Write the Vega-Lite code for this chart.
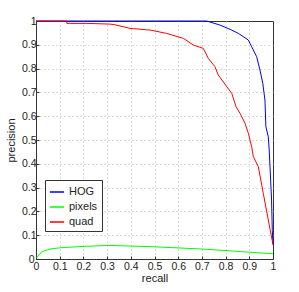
{
  "$schema": "https://vega.github.io/schema/vega-lite/v6.json",
  "width": 237,
  "height": 238,
  "autosize": "none",
  "padding": {"left": 36, "top": 21, "right": 26, "bottom": 33},
  "background": "white",
  "config": {
    "font": "Liberation Sans",
    "view": {"stroke": "#333333", "strokeWidth": 1}
  },
  "data": {
    "values": [
      {"s": "HOG", "i": 0, "r": 0, "p": 1},
      {"s": "HOG", "i": 1, "r": 0.72, "p": 1},
      {"s": "HOG", "i": 2, "r": 0.776, "p": 0.983},
      {"s": "HOG", "i": 3, "r": 0.819, "p": 0.965},
      {"s": "HOG", "i": 4, "r": 0.854, "p": 0.948},
      {"s": "HOG", "i": 5, "r": 0.896, "p": 0.92},
      {"s": "HOG", "i": 6, "r": 0.91, "p": 0.892},
      {"s": "HOG", "i": 7, "r": 0.931, "p": 0.85},
      {"s": "HOG", "i": 8, "r": 0.945, "p": 0.794},
      {"s": "HOG", "i": 9, "r": 0.957, "p": 0.738},
      {"s": "HOG", "i": 10, "r": 0.966, "p": 0.668},
      {"s": "HOG", "i": 11, "r": 0.97, "p": 0.556},
      {"s": "HOG", "i": 12, "r": 0.98, "p": 0.514},
      {"s": "HOG", "i": 13, "r": 0.984, "p": 0.458},
      {"s": "HOG", "i": 14, "r": 0.994, "p": 0.248},
      {"s": "HOG", "i": 15, "r": 0.997, "p": 0.12},
      {"s": "HOG", "i": 16, "r": 1, "p": 0.06},
      {"s": "pixels", "i": 0, "r": 0, "p": 0.003},
      {"s": "pixels", "i": 1, "r": 0.024, "p": 0.03},
      {"s": "pixels", "i": 2, "r": 0.059, "p": 0.042},
      {"s": "pixels", "i": 3, "r": 0.101, "p": 0.047},
      {"s": "pixels", "i": 4, "r": 0.2, "p": 0.053},
      {"s": "pixels", "i": 5, "r": 0.31, "p": 0.057},
      {"s": "pixels", "i": 6, "r": 0.48, "p": 0.052},
      {"s": "pixels", "i": 7, "r": 0.7, "p": 0.042},
      {"s": "pixels", "i": 8, "r": 1, "p": 0.022},
      {"s": "quad", "i": 0, "r": 0, "p": 1},
      {"s": "quad", "i": 1, "r": 0.13, "p": 1},
      {"s": "quad", "i": 2, "r": 0.13, "p": 0.99},
      {"s": "quad", "i": 3, "r": 0.214, "p": 0.99},
      {"s": "quad", "i": 4, "r": 0.312, "p": 0.987},
      {"s": "quad", "i": 5, "r": 0.33, "p": 0.985},
      {"s": "quad", "i": 6, "r": 0.397, "p": 0.969},
      {"s": "quad", "i": 7, "r": 0.467, "p": 0.963},
      {"s": "quad", "i": 8, "r": 0.481, "p": 0.962},
      {"s": "quad", "i": 9, "r": 0.551, "p": 0.948},
      {"s": "quad", "i": 10, "r": 0.622, "p": 0.927},
      {"s": "quad", "i": 11, "r": 0.664, "p": 0.899},
      {"s": "quad", "i": 12, "r": 0.706, "p": 0.885},
      {"s": "quad", "i": 13, "r": 0.727, "p": 0.843},
      {"s": "quad", "i": 14, "r": 0.755, "p": 0.808},
      {"s": "quad", "i": 15, "r": 0.769, "p": 0.773},
      {"s": "quad", "i": 16, "r": 0.805, "p": 0.724},
      {"s": "quad", "i": 17, "r": 0.826, "p": 0.696},
      {"s": "quad", "i": 18, "r": 0.844, "p": 0.64},
      {"s": "quad", "i": 19, "r": 0.861, "p": 0.612},
      {"s": "quad", "i": 20, "r": 0.882, "p": 0.57},
      {"s": "quad", "i": 21, "r": 0.896, "p": 0.528},
      {"s": "quad", "i": 22, "r": 0.91, "p": 0.472},
      {"s": "quad", "i": 23, "r": 0.917, "p": 0.43},
      {"s": "quad", "i": 24, "r": 0.938, "p": 0.388},
      {"s": "quad", "i": 25, "r": 0.959, "p": 0.276},
      {"s": "quad", "i": 26, "r": 0.98, "p": 0.164},
      {"s": "quad", "i": 27, "r": 1, "p": 0.06}
    ]
  },
  "mark": {"type": "line", "strokeWidth": 1, "clip": false},
  "encoding": {
    "x": {
      "field": "r", "type": "quantitative",
      "scale": {"domain": [0, 1], "nice": false, "zero": false},
      "axis": {
        "title": "recall", "values": [0, 0.1, 0.2, 0.3, 0.4, 0.5, 0.6, 0.7, 0.8, 0.9, 1],
        "format": ".1~f", "labelFontSize": 10.5, "titleFontSize": 11, "titleFontWeight": "normal",
        "titleColor": "#222", "labelColor": "#222", "labelPadding": 5, "titlePadding": 1,
        "tickSize": -3, "tickColor": "#333", "domainColor": "#333", "labelFlush": false,
        "grid": true, "gridDash": [1, 3], "gridColor": "#bbbbbb",
        "gridOpacity": {"condition": {"test": "datum.value == 0 || datum.value == 1", "value": 0}, "value": 1}
      }
    },
    "y": {
      "field": "p", "type": "quantitative",
      "scale": {"domain": [0, 1], "nice": false, "zero": false},
      "axis": {
        "title": "precision", "values": [0, 0.1, 0.2, 0.3, 0.4, 0.5, 0.6, 0.7, 0.8, 0.9, 1],
        "format": ".1~f", "labelFontSize": 10.5, "titleFontSize": 11, "titleFontWeight": "normal",
        "titleColor": "#222", "labelColor": "#222",
        "labelPadding": {"condition": {"test": "datum.value == 0", "value": 5}, "value": 3},
        "titlePadding": 5,
        "tickSize": -3, "tickColor": "#333", "domainColor": "#333", "labelFlush": false,
        "grid": true, "gridDash": [1, 3], "gridColor": "#bbbbbb",
        "gridOpacity": {"condition": {"test": "datum.value == 0 || datum.value == 1", "value": 0}, "value": 1}
      }
    },
    "color": {
      "field": "s", "type": "nominal",
      "scale": {"domain": ["HOG", "pixels", "quad"], "range": ["#0000ff", "#00ff00", "#ff0000"]},
      "legend": {
        "title": null, "orient": "none", "legendX": 9, "legendY": 159,
        "fillColor": "white", "strokeColor": "#333333", "padding": 4,
        "symbolType": "stroke", "symbolSize": 200, "symbolStrokeWidth": 1.5,
        "labelFontSize": 11, "labelColor": "#222", "rowPadding": 2, "labelOffset": 4
      }
    },
    "order": {"field": "i", "type": "quantitative"}
  }
}
